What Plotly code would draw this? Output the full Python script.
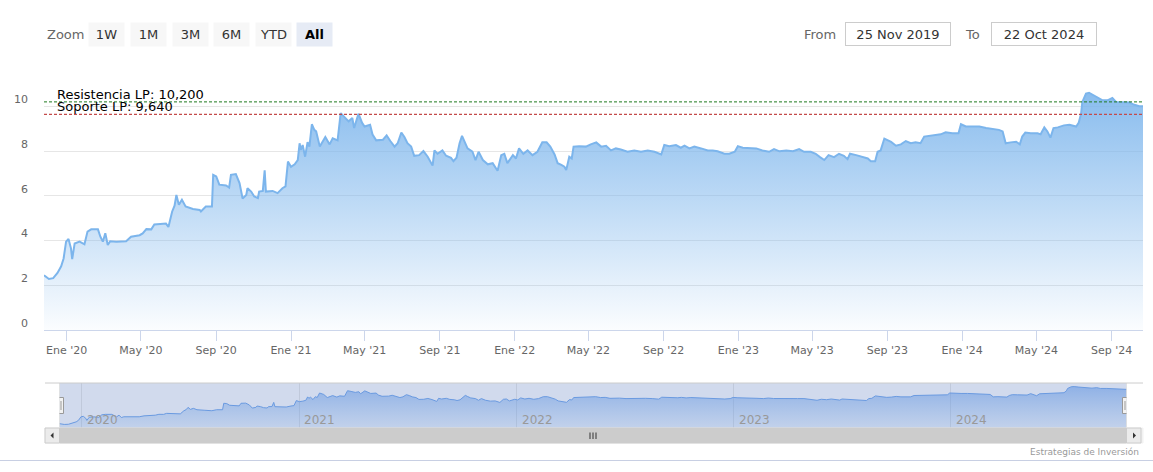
import plotly.graph_objects as go

# ---------------- data ----------------
DATES = [
    "2019-11-25", "2019-12-03", "2019-12-10", "2019-12-17", "2019-12-23", "2019-12-27", "2019-12-31",
    "2020-01-04", "2020-01-08", "2020-01-10", "2020-01-14", "2020-01-22", "2020-01-30", "2020-02-04",
    "2020-02-10", "2020-02-21", "2020-02-25", "2020-02-29", "2020-03-04", "2020-03-08", "2020-03-12",
    "2020-03-22", "2020-04-07", "2020-04-15", "2020-04-29", "2020-05-04", "2020-05-10", "2020-05-18",
    "2020-05-23", "2020-06-11", "2020-06-15", "2020-06-21", "2020-06-25", "2020-06-28", "2020-07-02",
    "2020-07-07", "2020-07-13", "2020-07-25", "2020-08-05", "2020-08-07", "2020-08-15", "2020-08-25",
    "2020-08-27", "2020-09-01", "2020-09-06", "2020-09-17", "2020-09-22", "2020-09-25", "2020-10-03",
    "2020-10-09", "2020-10-14", "2020-10-20", "2020-10-22", "2020-10-28", "2020-11-02", "2020-11-08",
    "2020-11-10", "2020-11-16", "2020-11-19", "2020-11-21", "2020-12-02", "2020-12-10", "2020-12-18",
    "2020-12-23", "2020-12-27", "2021-01-01", "2021-01-07", "2021-01-12", "2021-01-15", "2021-01-17",
    "2021-01-20", "2021-01-24", "2021-01-28", "2021-01-31", "2021-02-04", "2021-02-08", "2021-02-11",
    "2021-02-17", "2021-02-26", "2021-03-05", "2021-03-10", "2021-03-18", "2021-03-23", "2021-03-29",
    "2021-04-05", "2021-04-11", "2021-04-14", "2021-04-21", "2021-04-27", "2021-05-01", "2021-05-10",
    "2021-05-14", "2021-05-20", "2021-05-31", "2021-06-06", "2021-06-12", "2021-06-19", "2021-06-24",
    "2021-06-30", "2021-07-05", "2021-07-10", "2021-07-16", "2021-07-21", "2021-07-29", "2021-08-05",
    "2021-08-12", "2021-08-20", "2021-08-23", "2021-08-28", "2021-09-05", "2021-09-11", "2021-09-19",
    "2021-09-23", "2021-09-28", "2021-10-03", "2021-10-07", "2021-10-11", "2021-10-16", "2021-10-24",
    "2021-10-29", "2021-11-03", "2021-11-10", "2021-11-18", "2021-11-26", "2021-12-04", "2021-12-10",
    "2021-12-15", "2021-12-20", "2021-12-29", "2022-01-03", "2022-01-08", "2022-01-15", "2022-01-22",
    "2022-01-30", "2022-02-07", "2022-02-15", "2022-02-22", "2022-02-28", "2022-03-07", "2022-03-12",
    "2022-03-18", "2022-03-23", "2022-03-26", "2022-03-31", "2022-04-04", "2022-04-07", "2022-04-16",
    "2022-04-27", "2022-05-05", "2022-05-14", "2022-05-22", "2022-05-30", "2022-06-07", "2022-06-15",
    "2022-06-23", "2022-07-04", "2022-07-15", "2022-07-26", "2022-08-06", "2022-08-17", "2022-08-28",
    "2022-09-02", "2022-09-10", "2022-09-21", "2022-09-29", "2022-10-05", "2022-10-13", "2022-10-21",
    "2022-11-01", "2022-11-12", "2022-11-20", "2022-11-28", "2022-12-09", "2022-12-17", "2022-12-26",
    "2022-12-31", "2023-01-08", "2023-01-19", "2023-01-30", "2023-02-09", "2023-02-20", "2023-02-28",
    "2023-03-09", "2023-03-20", "2023-03-31", "2023-04-10", "2023-04-18", "2023-04-29", "2023-05-07",
    "2023-05-14", "2023-05-21", "2023-05-28", "2023-06-06", "2023-06-14", "2023-06-22", "2023-06-28",
    "2023-07-02", "2023-07-12", "2023-07-22", "2023-07-31", "2023-08-05", "2023-08-12", "2023-08-16",
    "2023-08-21", "2023-08-27", "2023-09-01", "2023-09-07", "2023-09-15", "2023-09-23", "2023-10-01",
    "2023-10-09", "2023-10-17", "2023-10-25", "2023-10-31", "2023-11-11", "2023-11-19", "2023-11-27",
    "2023-12-05", "2023-12-16", "2023-12-26", "2023-12-30", "2024-01-07", "2024-01-18", "2024-01-29",
    "2024-02-09", "2024-02-19", "2024-03-01", "2024-03-07", "2024-03-10", "2024-03-12", "2024-03-20",
    "2024-03-29", "2024-04-04", "2024-04-08", "2024-04-13", "2024-04-22", "2024-05-03", "2024-05-08",
    "2024-05-14", "2024-05-19", "2024-05-24", "2024-05-29", "2024-06-05", "2024-06-15", "2024-06-24",
    "2024-07-05", "2024-07-09", "2024-07-13", "2024-07-15", "2024-07-21", "2024-07-26", "2024-08-03",
    "2024-08-11", "2024-08-17", "2024-08-25", "2024-09-02", "2024-09-08", "2024-09-19", "2024-09-30",
    "2024-10-08", "2024-10-16", "2024-10-22",
]
VALUES = [
    2.45, 2.28, 2.32, 2.55, 2.85, 3.20, 3.95,
    4.07, 3.65, 3.17, 3.87, 3.95, 3.83, 4.40,
    4.50, 4.50, 4.17, 3.95, 4.33, 3.80, 3.97,
    3.95, 3.97, 4.17, 4.24, 4.32, 4.51, 4.50,
    4.72, 4.76, 4.61, 5.29, 5.56, 6.04, 5.60,
    5.82, 5.52, 5.41, 5.37, 5.30, 5.52, 5.52,
    6.94, 6.87, 6.50, 6.46, 6.37, 6.94, 6.97,
    6.57, 5.88, 6.04, 6.34, 6.19, 5.97, 5.90,
    6.19, 6.22, 7.14, 6.19, 6.22, 6.12, 6.34,
    6.42, 7.53, 7.30, 7.41, 7.60, 8.35, 8.05,
    8.27, 7.75, 8.40, 8.20, 9.20, 8.95, 8.88,
    8.20, 8.63, 8.30, 8.57, 8.48, 9.70, 9.55,
    9.33, 9.48, 9.03, 9.67, 9.26, 9.10, 9.18,
    8.74, 8.48, 8.51, 8.70, 8.45, 8.20, 8.35,
    8.83, 8.63, 8.35, 8.20, 7.79, 7.82, 8.00,
    7.75, 7.35, 8.03, 7.88, 8.03, 7.79, 7.70,
    7.55, 7.70, 8.35, 8.68, 8.41, 8.12, 7.97,
    7.60, 7.97, 7.60, 7.41, 7.46, 7.12, 7.82,
    7.88, 7.46, 7.82, 7.67, 8.12, 7.88, 8.03,
    7.82, 7.97, 8.39, 8.39, 8.20, 7.85, 7.46,
    7.38, 7.30, 7.15, 7.75, 7.67, 8.20, 8.22,
    8.20, 8.30, 8.39, 8.20, 8.24, 8.03, 8.12,
    8.07, 7.97, 8.03, 7.97, 8.03, 7.97, 7.85,
    8.27, 8.22, 8.27, 8.15, 8.24, 8.12, 8.20,
    8.12, 8.03, 8.03, 7.99, 7.88, 7.88, 7.97,
    8.22, 8.15, 8.15, 8.12, 8.03, 7.97, 8.09,
    7.99, 8.03, 7.99, 8.09, 7.97, 7.97, 7.88,
    7.73, 7.60, 7.82, 7.73, 7.88, 7.79, 7.64,
    7.88, 7.82, 7.73, 7.67, 7.55, 7.55, 7.97,
    8.03, 8.56, 8.48, 8.41, 8.24, 8.30, 8.45,
    8.35, 8.39, 8.35, 8.65, 8.69, 8.72, 8.75,
    8.84, 8.80, 8.80, 9.20, 9.10, 9.10, 9.10,
    9.03, 8.98, 8.95, 8.88, 8.57, 8.35, 8.39,
    8.42, 8.30, 8.65, 8.83, 8.80, 8.80, 8.75,
    9.06, 8.88, 8.60, 9.03, 9.06, 9.15, 9.18,
    9.10, 9.26, 9.67, 10.20, 10.57, 10.61, 10.50,
    10.38, 10.27, 10.27, 10.38, 10.20, 10.20, 10.17,
    10.07, 10.01, 10.00,
]

RESISTANCE = 10.2
SUPPORT = 9.64
RES_LABEL = "Resistencia LP: 10,200"
SUP_LABEL = "Soporte LP: 9,640"

X_START = "2019-11-25"
X_END = "2024-10-22"

TICK_DATES = ["2020-01-01", "2020-05-01", "2020-09-01", "2021-01-01", "2021-05-01", "2021-09-01",
              "2022-01-01", "2022-05-01", "2022-09-01", "2023-01-01", "2023-05-01", "2023-09-01",
              "2024-01-01", "2024-05-01", "2024-09-01"]
TICK_TEXT = ["Ene '20", "May '20", "Sep '20", "Ene '21", "May '21", "Sep '21",
             "Ene '22", "May '22", "Sep '22", "Ene '23", "May '23", "Sep '23",
             "Ene '24", "May '24", "Sep '24"]
Y_TICKS = [0, 2, 4, 6, 8, 10]

NAV_YEARS = ["2020-01-01", "2021-01-01", "2022-01-01", "2023-01-01", "2024-01-01"]
NAV_YEAR_TEXT = ["2020", "2021", "2022", "2023", "2024"]

ZOOM_LABEL = "Zoom"
ZOOM_BUTTONS = ["1W", "1M", "3M", "6M", "YTD", "All"]
ACTIVE_BUTTON = "All"
FROM_LABEL, FROM_TEXT = "From", "25 Nov 2019"
TO_LABEL, TO_TEXT = "To", "22 Oct 2024"
CREDITS = "Estrategias de Inversión"

# ---------------- layout helpers ----------------
W, H = 1153, 472
ML, MR = 44, 10
PW = W - ML - MR


def px(x):
    return (x - ML) / PW


def py(y):
    return (H - y) / H


FONT = "DejaVu Sans"
MAIN_DOM = [py(330), py(84)]
NAV_DOM = [py(428), py(383)]
NAV_XDOM = [px(59.5), px(1126.5)]

fig = go.Figure()

fig.add_trace(go.Scatter(
    x=DATES, y=VALUES, mode="lines", xaxis="x", yaxis="y",
    line=dict(color="#7cb5ec", width=2),
    fill="tozeroy",
    fillgradient=dict(type="vertical", start=0, stop=max(VALUES),
                      colorscale=[[0, "rgba(124,181,236,0.03)"], [1, "rgba(124,181,236,0.9)"]]),
    hoverinfo="skip", showlegend=False,
))

fig.add_trace(go.Scatter(
    x=DATES, y=VALUES, mode="lines", xaxis="x2", yaxis="y2",
    line=dict(color="#6a9ae0", width=1),
    fill="tozeroy",
    fillgradient=dict(type="vertical", start=1.5, stop=max(VALUES),
                      colorscale=[[0, "rgba(110,160,225,0.15)"], [1, "rgba(100,150,225,0.6)"]]),
    hoverinfo="skip", showlegend=False,
))

shapes = []
# plot lines
shapes.append(dict(type="line", xref="paper", x0=0, x1=1, yref="y", y0=RESISTANCE, y1=RESISTANCE,
                   line=dict(color="#1f7a1f", width=1, dash="3px,2px"), layer="above"))
shapes.append(dict(type="line", xref="paper", x0=0, x1=1, yref="y", y0=SUPPORT, y1=SUPPORT,
                   line=dict(color="#c44a4a", width=1.2, dash="3px,2px"), layer="above"))

# navigator mask
shapes.append(dict(type="rect", xref="x2", x0=X_START, x1=X_END, yref="paper", y0=NAV_DOM[0], y1=NAV_DOM[1],
                   fillcolor="rgba(102,133,194,0.3)", line=dict(width=0), layer="below"))
# navigator outline
shapes.append(dict(type="line", xref="paper", x0=px(45), x1=1, yref="paper", y0=NAV_DOM[1], y1=NAV_DOM[1],
                   line=dict(color="#cccccc", width=1), layer="above"))
for d in (X_START, X_END):
    shapes.append(dict(type="line", xref="x2", x0=d, x1=d, yref="paper", y0=NAV_DOM[0], y1=NAV_DOM[1],
                       line=dict(color="#cccccc", width=1), layer="above"))

# scrollbar
SB = [py(443), py(428)]
shapes.append(dict(type="rect", xref="paper", x0=px(45), x1=1, yref="paper", y0=SB[0], y1=SB[1],
                   fillcolor="#f2f2f2", line=dict(color="#f2f2f2", width=1), layer="above"))
shapes.append(dict(type="rect", xref="x2", x0=X_START, x1=X_END, yref="paper", y0=SB[0], y1=SB[1],
                   fillcolor="#cccccc", line=dict(color="#cccccc", width=1), layer="above"))
shapes.append(dict(type="rect", xref="paper", x0=px(45), x1=NAV_XDOM[0], yref="paper", y0=SB[0], y1=SB[1],
                   fillcolor="#ebebeb", line=dict(color="#cccccc", width=1), layer="above"))
shapes.append(dict(type="rect", xref="paper", x0=NAV_XDOM[1], x1=px(1141), yref="paper", y0=SB[0], y1=SB[1],
                   fillcolor="#ebebeb", line=dict(color="#cccccc", width=1), layer="above"))
# arrows
shapes.append(dict(type="path", xref="paper", yref="paper",
                   path=f"M {px(50.5)},{py(435.5)} L {px(53.5)},{py(432.5)} L {px(53.5)},{py(438.5)} Z",
                   fillcolor="#333333", line=dict(width=0), layer="above"))
shapes.append(dict(type="path", xref="paper", yref="paper",
                   path=f"M {px(1136)},{py(435.5)} L {px(1133)},{py(432.5)} L {px(1133)},{py(438.5)} Z",
                   fillcolor="#333333", line=dict(width=0), layer="above"))
# rifles
mid = (NAV_XDOM[0] + NAV_XDOM[1]) / 2
for k in (-3, 0, 3):
    shapes.append(dict(type="line", xref="paper", x0=mid + k / PW, x1=mid + k / PW, yref="paper",
                       y0=py(439), y1=py(432.5), line=dict(color="#333333", width=1), layer="above"))

# handles
for d in (X_START, X_END):
    shapes.append(dict(type="rect", xref="x2", xsizemode="pixel", xanchor=d, x0=-4, x1=4,
                       yref="paper", y0=py(413.5), y1=py(397.5),
                       fillcolor="#f2f2f2", line=dict(color="#999999", width=1), layer="above"))
    for k in (-1.5, 1.5):
        shapes.append(dict(type="line", xref="x2", xsizemode="pixel", xanchor=d, x0=k, x1=k,
                           yref="paper", y0=py(410), y1=py(401),
                           line=dict(color="#999999", width=1), layer="above"))

# bottom border
shapes.append(dict(type="line", xref="paper", x0=px(0), x1=px(W), yref="paper", y0=py(460.5), y1=py(460.5),
                   line=dict(color="#c8cfe3", width=1), layer="above"))

annotations = []
annotations.append(dict(text=RES_LABEL, xref="paper", x=px(56), xanchor="left", yref="y", y=RESISTANCE,
                        yanchor="bottom", yshift=-1, showarrow=False, borderpad=0,
                        font=dict(family=FONT, size=13, color="#000000")))
annotations.append(dict(text=SUP_LABEL, xref="paper", x=px(56), xanchor="left", yref="y", y=SUPPORT,
                        yanchor="bottom", yshift=-1, showarrow=False, borderpad=0,
                        font=dict(family=FONT, size=13, color="#000000")))

# range selector look
annotations.append(dict(text=ZOOM_LABEL, xref="paper", x=px(45), xanchor="left", yref="paper", y=py(34),
                        yanchor="middle", showarrow=False, font=dict(family=FONT, size=13, color="#666666")))
for i, b in enumerate(ZOOM_BUTTONS):
    cx = 106.7 + i * 41.65
    active = b == ACTIVE_BUTTON
    annotations.append(dict(
        text=f"<b>{b}</b>" if active else b, xref="paper", x=px(cx), xanchor="center",
        yref="paper", y=py(34), yanchor="middle", showarrow=False,
        width=35, height=23, align="center", valign="middle", borderpad=0,
        bgcolor="#e6ebf5" if active else "#f7f7f7",
        font=dict(family=FONT, size=13, color="#000000" if active else "#333333")))

annotations.append(dict(text=FROM_LABEL, xref="paper", x=px(838), xanchor="right", yref="paper", y=py(34),
                        yanchor="middle", showarrow=False, font=dict(family=FONT, size=13, color="#666666")))
annotations.append(dict(text=FROM_TEXT, xref="paper", x=px(898), xanchor="center", yref="paper", y=py(34.5),
                        yanchor="middle", showarrow=False, width=104, height=22, borderpad=0,
                        bordercolor="#cccccc", borderwidth=1, bgcolor="#ffffff",
                        font=dict(family=FONT, size=13, color="#333333")))
annotations.append(dict(text=TO_LABEL, xref="paper", x=px(982), xanchor="right", yref="paper", y=py(34),
                        yanchor="middle", showarrow=False, font=dict(family=FONT, size=13, color="#666666")))
annotations.append(dict(text=TO_TEXT, xref="paper", x=px(1044), xanchor="center", yref="paper", y=py(34.5),
                        yanchor="middle", showarrow=False, width=104, height=22, borderpad=0,
                        bordercolor="#cccccc", borderwidth=1, bgcolor="#ffffff",
                        font=dict(family=FONT, size=13, color="#333333")))

for d, t in zip(NAV_YEARS, NAV_YEAR_TEXT):
    annotations.append(dict(text=t, xref="x2", x=d, xanchor="left", xshift=3, yref="paper", y=py(420),
                            yanchor="middle", showarrow=False,
                            font=dict(family=FONT, size=12, color="#999999")))

annotations.append(dict(text=CREDITS, xref="paper", x=px(1141), xanchor="right", yref="paper", y=py(452),
                        yanchor="middle", showarrow=False, font=dict(family=FONT, size=9, color="#999999")))

fig.update_layout(
    width=W, height=H, margin=dict(l=ML, r=MR, t=0, b=0, autoexpand=False),
    paper_bgcolor="#ffffff", plot_bgcolor="rgba(0,0,0,0)",
    font=dict(family=FONT, size=11, color="#666666"),
    showlegend=False,
    xaxis=dict(domain=[0, 1], anchor="y", range=[X_START, X_END], type="date", automargin=False,
               tickvals=TICK_DATES, ticktext=TICK_TEXT, ticks="outside", ticklen=10,
               tickcolor="#ccd6eb", showline=True, linecolor="#ccd6eb", linewidth=1,
               showgrid=False, zeroline=False, fixedrange=True,
               tickfont=dict(family=FONT, size=11, color="#666666")),
    yaxis=dict(domain=MAIN_DOM, anchor="x", range=[0, 11], tickvals=Y_TICKS, automargin=False,
               gridcolor="#e6e6e6", gridwidth=1, zeroline=False, showline=False, ticks="",
               ticklabelshift=-7, ticklabelstandoff=15, fixedrange=True,
               tickfont=dict(family=FONT, size=11, color="#666666")),
    xaxis2=dict(domain=NAV_XDOM, anchor="y2", range=[X_START, X_END], type="date", automargin=False,
                tickvals=NAV_YEARS, showticklabels=False, ticks="", showgrid=True,
                gridcolor="#c0c9db", gridwidth=1, zeroline=False, showline=False, fixedrange=True),
    yaxis2=dict(domain=NAV_DOM, anchor="x2", range=[1.5, 11.4], showticklabels=False, ticks="",
                automargin=False, showgrid=False, zeroline=False, showline=False, fixedrange=True),
    shapes=shapes,
    annotations=annotations,
)

fig.write_html("out.html", config={"displayModeBar": False},
               post_script="document.body.style.margin='0';")
